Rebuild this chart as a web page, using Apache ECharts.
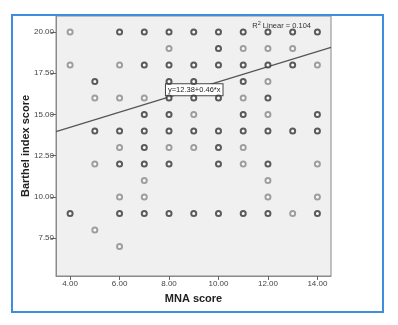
<!DOCTYPE html>
<html>
<head>
<meta charset="utf-8">
<script src="https://cdn.jsdelivr.net/npm/echarts@6/dist/echarts.min.js"></script>
<style>
  html, body { margin: 0; padding: 0; background: #fff; }
  #main { width: 398px; height: 325px; }
</style>
</head>
<body>
<div id="main"></div>
<script>
// points drawn bold in the picture (several cases on the same spot)
let multiPts = [
  [6,20],[7,20],[8,20],[9,20],[10,20],[11,20],[12,20],[13,20],[14,20],
  [10,19],
  [7,18],[8,18],[9,18],[10,18],[11,18],[12,18],[13,18],
  [5,17],[8,17],[9,17],[11,17],
  [8,16],[9,16],[10,16],[12,16],
  [7,15],[8,15],[11,15],[14,15],
  [5,14],[6,14],[7,14],[8,14],[9,14],[10,14],[11,14],[12,14],[13,14],[14,14],
  [7,13],[10,13],
  [6,12],[7,12],[8,12],[10,12],[12,12],
  [4,9],[6,9],[7,9],[8,9],[9,9],[10,9],[11,9],[12,9],[14,9]
];
// single cases (lighter circles)
let singlePts = [
  [4,20],
  [8,19],[11,19],[12,19],[13,19],
  [4,18],[6,18],[14,18],
  [12,17],
  [5,16],[6,16],[7,16],[11,16],
  [9,15],[12,15],
  [6,13],[8,13],[9,13],[11,13],
  [5,12],[11,12],[14,12],
  [7,11],[12,11],
  [6,10],[7,10],[12,10],[14,10],
  [13,9],
  [5,8],
  [6,7]
];
// fit line y = 12.38 + 0.46x, endpoints read at the plot edges
let fitX = [3.43, 14.55];
let fitY = [13.96, 19.07];
let xTicks = [4, 6, 8, 10, 12, 14];
let yTicks = [7.5, 10, 12.5, 15, 17.5, 20];

let fitData = fitX.map(function (x, i) { return [x, fitY[i]]; });
let font = 'Liberation Sans, Arial, sans-serif';

let myChart = echarts.init(document.getElementById('main'));
let option = {
  animation: false,
  backgroundColor: '#fff',
  grid: {
    left: 56, top: 16, right: 67, bottom: 49,
    show: true,
    backgroundColor: '#f0f0f0',
    borderColor: '#8a8a8a',
    borderWidth: 1
  },
  title: {
    text: '{a|R}{s|2}{a| Linear = 0.104}',
    right: 82, top: 15,
    textStyle: {
      fontWeight: 'normal',
      rich: {
        a: { fontFamily: font, fontSize: 7.5, fontWeight: 'normal', color: '#333' },
        s: { fontFamily: font, fontSize: 5.5, fontWeight: 'normal', color: '#333', verticalAlign: 'top', padding: [0, 0, 5, 0] }
      }
    }
  },
  graphic: [{
    type: 'rect',
    shape: { x: 12, y: 15, width: 371, height: 297 },
    style: { fill: 'none', stroke: '#3d8fdc', lineWidth: 2 },
    z: 100
  }],
  xAxis: {
    type: 'value',
    min: 3.43, max: 14.55,
    name: 'MNA score',
    nameLocation: 'middle',
    nameGap: 17,
    nameTextStyle: { fontFamily: font, fontSize: 11, fontWeight: 'bold', color: '#222' },
    axisLine: { show: true, lineStyle: { color: '#8a8a8a' } },
    axisTick: { show: true, length: 4, customValues: xTicks, lineStyle: { color: '#666' } },
    axisLabel: {
      customValues: xTicks,
      fontFamily: font, fontSize: 8, color: '#444', margin: 4,
      formatter: function (v) { return v.toFixed(2); }
    },
    splitLine: { show: false }
  },
  yAxis: {
    type: 'value',
    min: 5.21, max: 20.97,
    name: 'Barthel index score',
    nameLocation: 'middle',
    nameGap: 25,
    nameMoveOverlap: false,
    nameTextStyle: { fontFamily: font, fontSize: 11, fontWeight: 'bold', color: '#222' },
    axisLine: { show: true, lineStyle: { color: '#8a8a8a' } },
    axisTick: { show: true, length: 5, customValues: yTicks, lineStyle: { color: '#666' } },
    axisLabel: {
      customValues: yTicks,
      fontFamily: font, fontSize: 8, color: '#444', margin: 2,
      formatter: function (v) { return v.toFixed(2); }
    },
    splitLine: { show: false }
  },
  series: [
    {
      name: 'fit',
      type: 'line',
      data: fitData,
      symbol: 'none',
      lineStyle: { color: '#555', width: 1.2 },
      z: 3,
      markPoint: {
        symbol: 'rect',
        symbolSize: 0,
        data: [{ coord: [9.02, 16.5] }],
        label: {
          show: true,
          position: 'inside',
          formatter: 'y=12.38+0.46*x',
          fontFamily: font, fontSize: 7.5, color: '#222',
          backgroundColor: '#fff',
          borderColor: '#444', borderWidth: 1,
          padding: [2, 2, 1, 2]
        }
      }
    },
    {
      name: 'single',
      type: 'scatter',
      data: singlePts,
      symbol: 'emptyCircle',
      symbolSize: 5,
      itemStyle: { color: '#888', borderColor: '#888', borderWidth: 1 },
      z: 4
    },
    {
      name: 'multi',
      type: 'scatter',
      data: multiPts,
      symbol: 'emptyCircle',
      symbolSize: 5,
      itemStyle: { color: '#333', borderColor: '#333', borderWidth: 1.6 },
      z: 5
    }
  ]
};
myChart.setOption(option);
</script>
</body>
</html>
